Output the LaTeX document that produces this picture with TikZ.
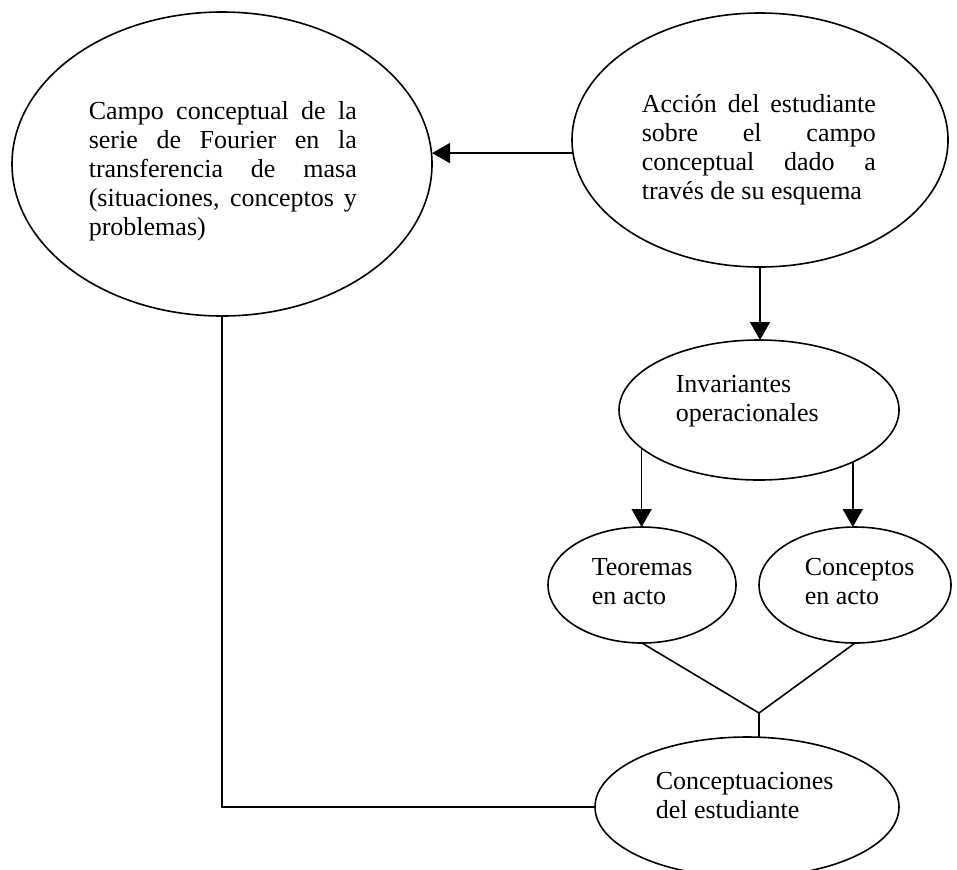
\documentclass[tikz,border=0pt]{standalone}
\usepackage{fontspec}
\setmainfont{Liberation Serif}
\usetikzlibrary{arrows.meta,shapes.geometric}
% one justified line of a fixed-width paragraph
\newcommand\jline[1]{\makebox[\linewidth][s]{#1}\\}
\begin{document}
\begin{tikzpicture}[x=0.5pt,y=-0.5pt, line width=0.8pt,
  oval/.style={ellipse, draw, inner sep=0pt, outer sep=0pt},
  txt/.style={anchor=base west, inner sep=0pt, font=\fontsize{13}{14.6}\selectfont},
  arr/.style={-{Triangle[length=9pt,width=10pt]}}]
\useasboundingbox (0,0) rectangle (957,869);
\clip (0,0) rectangle (957,869);

% outlines
\node[oval, minimum width=210pt, minimum height=152pt] (camp) at (222,164) {};
\node[oval, minimum width=188pt, minimum height=127pt] (act) at (760,140) {};
\node[oval, minimum width=140pt, minimum height=70pt] (inv) at (759,410) {};
\node[oval, minimum width=94pt, minimum height=58pt] (teo) at (642,585) {};
\node[oval, minimum width=96pt, minimum height=58pt] (conc) at (855,585) {};
\node[oval, minimum width=152pt, minimum height=70pt] (cpt) at (747,807) {};

% texts
\node[txt] (t-camp) at (88,119) {\parbox[t]{134pt}{%
  \jline{Campo conceptual de la}\jline{serie de Fourier en la}%
  \jline{transferencia de masa}\jline{(situaciones, conceptos y}problemas)}};
\node[txt] (t-act) at (641,112) {\parbox[t]{117pt}{%
  \jline{Acción del estudiante}\jline{sobre el campo}%
  \jline{conceptual dado a}través de su esquema}};
\node[txt] (t-inv) at (675,392) {\parbox[t]{100pt}{Invariantes\\operacionales}};
\node[txt] (t-teo) at (591,575) {\parbox[t]{60pt}{Teoremas\\en acto}};
\node[txt] (t-conc) at (804,575) {\parbox[t]{60pt}{Conceptos\\en acto}};
\node[txt] (t-cpt) at (655,789) {\parbox[t]{100pt}{Conceptuaciones\\del estudiante}};

% connectors
\coordinate (j) at (759,713);
\draw[arr] (act.184) -- (act.184 -| camp.east);
\draw[arr] (act.south) -- (act.south |- inv.north);
\draw[arr] (inv.198) -- (inv.198 |- teo.north);
\draw[arr] (inv.-29.2) -- (inv.-29.2 |- conc.north);
\draw (teo.south) -- (j) -- (conc.south);
\draw (j) -- (j |- cpt.north);
\draw (camp.south) -- (camp.south |- cpt.west) -- (cpt.west);
\end{tikzpicture}
\end{document}
